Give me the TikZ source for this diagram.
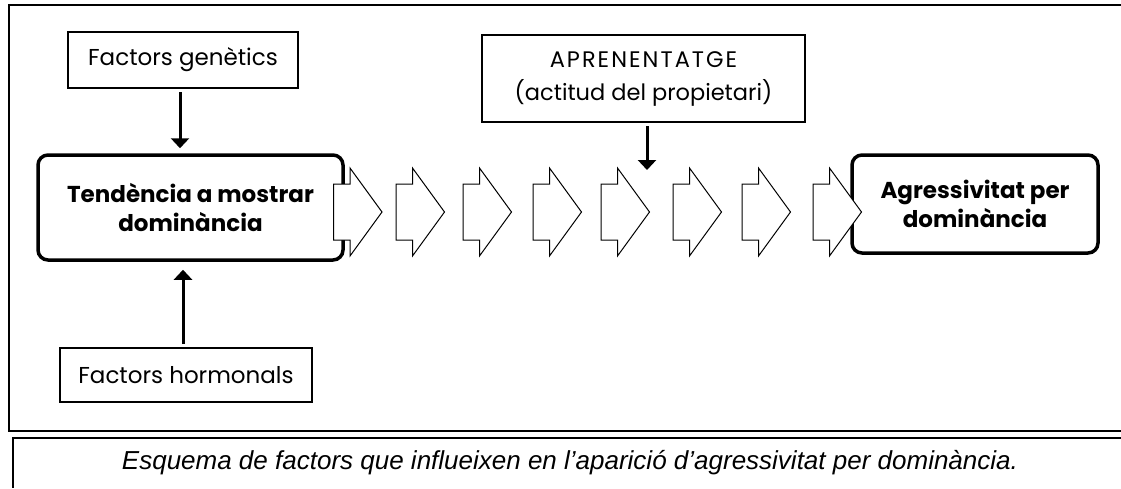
\documentclass[tikz,border=0pt]{standalone}
\usepackage{fontspec}
\setmainfont{Liberation Sans}
\newfontfamily\gothic{Poppins}
\usetikzlibrary{arrows.meta}
\tikzset{
  plainbox/.style={draw, line width=2pt, fill=white, inner sep=0pt, align=center,
    font=\gothic\fontsize{23}{30}\selectfont},
  mainbox/.style={draw, line width=3.5pt, rounded corners=10pt, fill=white, inner sep=0pt,
    align=center, font=\gothic\bfseries\fontsize{23}{29}\selectfont},
  conn/.style={line width=3pt, -{Triangle[length=10pt,width=18pt]}},
  blockarrow/.pic={\draw[fill=white, line width=1pt, line join=miter]
    (0,-28) -- (16.5,-28) -- (16.5,-44) -- (48.5,0) -- (16.5,44) -- (16.5,28) -- (0,28) -- cycle;}
}
\begin{document}
\begin{tikzpicture}[x=1pt,y=-1pt]
\useasboundingbox (0,0) rectangle (1121,488);
% outer frame and caption box
\draw[line width=2pt] (1121,5) -- (9,5) -- (9,431) -- (1121,431);
\draw[line width=1.5pt] (1121,438) -- (13,438) -- (13,488);
\node[font=\itshape\fontsize{26}{30}\selectfont] (cap) at (570,463)
  {Esquema de factors que influeixen en l’aparició d’agressivitat per dominància.};
% boxes
\node[plainbox, minimum width=230pt, minimum height=56pt] (gen) at (183,60) {Factors genètics};
\node[plainbox, minimum width=252pt, minimum height=54pt] (horm) at (186,375) {Factors hormonals};
\node[plainbox, minimum width=323pt, minimum height=87pt, font=\gothic\fontsize{22.5}{33}\selectfont] (apr) at (643.5,78.5)
  {{\addfontfeature{LetterSpace=9}APRENENTATGE}\\(actitud del propietari)};
\node[mainbox, minimum width=305pt, minimum height=105pt] (main) at (190.5,207.5)
  {Tendència a mostrar\\dominància};
\node[mainbox, minimum width=246pt, minimum height=98pt] (agg) at (975,204)
  {Agressivitat per\\dominància};
% block arrows
\foreach \L in {333.5,396,463,533,601,673,742,813}
  \pic at (\L,212) {blockarrow};
% connectors
\coordinate (xg) at (180,0);
\coordinate (xh) at (183,0);
\coordinate (xa) at (647,0);
\draw[conn, shorten <=3pt, shorten >=5pt] (gen.south -| xg) -- (main.north -| xg);
\draw[conn, shorten <=3pt, shorten >=8pt] (horm.north -| xh) -- (main.south -| xh);
\draw[conn, shorten <=3pt] (apr.south -| xa) -- ++(0,47) coordinate (atip);
\end{tikzpicture}
\end{document}
